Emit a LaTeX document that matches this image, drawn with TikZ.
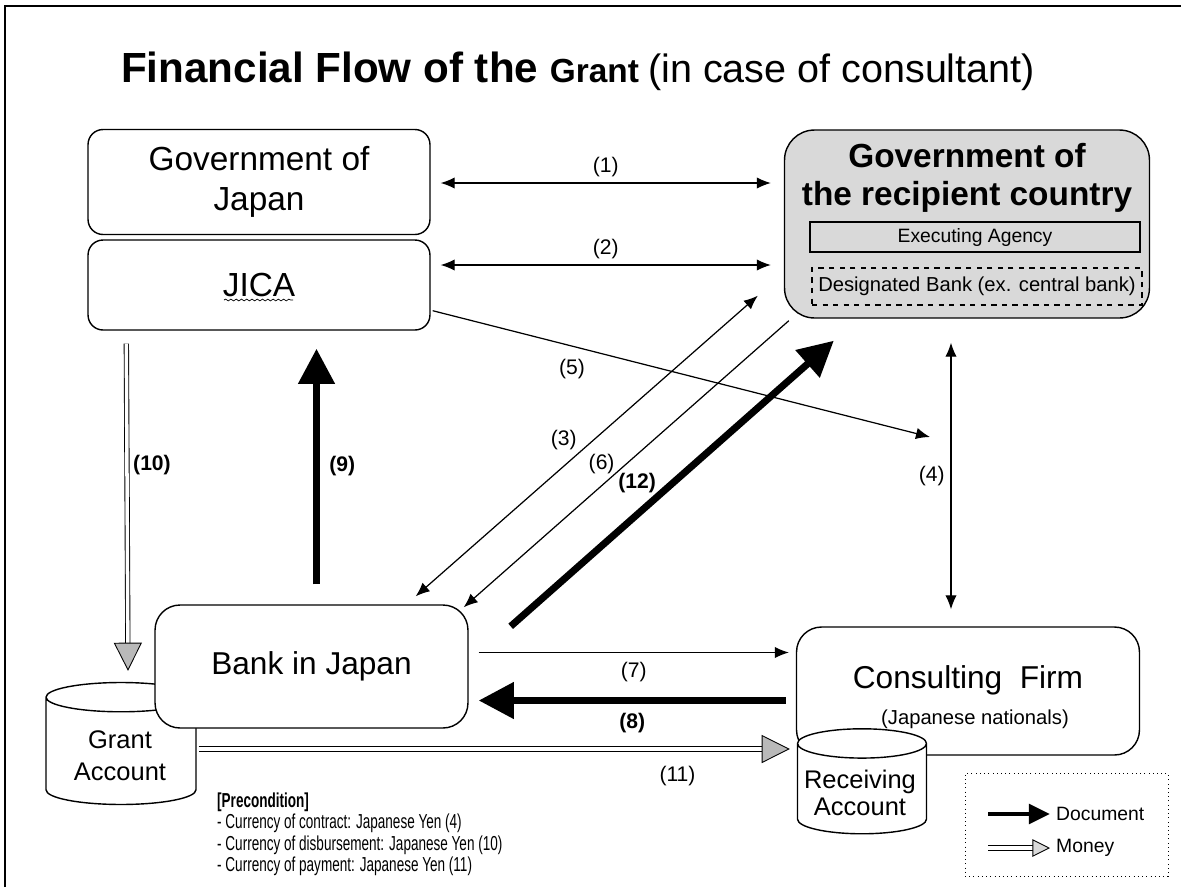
\documentclass[tikz,border=0pt]{standalone}
\usepackage{fontspec}
\setmainfont{Liberation Sans}
\newfontfamily\narrowfont[FakeStretch=0.67]{Liberation Sans}
\usetikzlibrary{arrows.meta,shapes.geometric,calc,decorations.pathmorphing}

\begin{document}
\begin{tikzpicture}[x=0.02cm,y=-0.02cm,
    box/.style={draw,rounded corners=0.3cm,fill=white,line width=0.8pt},
    acct/.style={draw,cylinder,shape border rotate=90,aspect=2.5,fill=white,line width=0.8pt},
    oneway/.style={line width=0.7pt,-{Latex[length=8pt,width=6.5pt]}},
    twoway/.style={line width=0.7pt,{Latex[length=8pt,width=6.5pt]}-{Latex[length=8pt,width=6.5pt]}},
    doc/.style={line width=4pt,-{Triangle[length=20pt,width=20pt]}},
    money/.style={double=white,double distance=2pt,line width=0.5pt,-{Triangle[length=16pt,width=16pt,fill=gray!55,line width=0.5pt]}},
    lbl/.style={font=\fontsize{12}{14}\selectfont},
    blbl/.style={font=\fontsize{12}{14}\selectfont\bfseries}]
  \useasboundingbox (0,0) rectangle (1181,887);
  \draw[line width=0.8pt] (5,887) -- (5,6) -- (1181,6);

  % title
  \node[anchor=base west] (title) at (115,82) {\fontsize{24}{28}\selectfont\bfseries Financial Flow of the \fontsize{19}{22}\selectfont Grant \mdseries\fontsize{22.5}{26}\selectfont(in case of consultant)};

  % japanese side
  \node[box,minimum width=6.84cm,minimum height=2.1cm,align=center,font=\fontsize{19}{23}\selectfont] (gj) at (259,182) {Government of\\Japan};
  \node[box,minimum width=6.84cm,minimum height=1.8cm,font=\fontsize{19}{23}\selectfont] (jica) at (259,285) {JICA};
  \draw[decorate,decoration={snake,amplitude=0.5pt,segment length=3pt}] ($(jica.center)+(-35,15)$) -- ($(jica.center)+(34,15)$);

  % recipient country
  \node[box,rounded corners=0.6cm,fill=gray!30,minimum width=7.3cm,minimum height=3.76cm] (rc) at (967,224) {};
  \node[font=\fontsize{19}{22}\selectfont\bfseries,align=center] (rctxt) at (967,178) {Government of\\the recipient country};
  \node[draw,line width=1.2pt,minimum width=6.6cm,minimum height=0.6cm,font=\fontsize{11}{13}\selectfont] (ea) at (975,237) {Executing Agency};
  \node[draw,dashed,line width=0.9pt,minimum width=6.6cm,minimum height=0.74cm,font=\fontsize{11.5}{13}\selectfont] (db) at (977,286.5) {Designated Bank (ex. central bank)};

  % bank and accounts
  \node[acct,minimum width=3cm,minimum height=2.44cm] (ga) at (121,754) {};
  \node[font=\fontsize{14.5}{18}\selectfont,align=center] (gatxt) at (120,756) {Grant\\Account};
  \node[box,rounded corners=0.5cm,minimum width=6.26cm,minimum height=2.46cm,font=\fontsize{18}{22}\selectfont] (bj) at (311.5,666.5) {Bank in Japan};
  \node[box,rounded corners=0.5cm,minimum width=6.86cm,minimum height=2.56cm] (cf) at (968,691) {};
  \node[font=\fontsize{18}{22}\selectfont] (cftxt) at (968,680) {Consulting\ \ Firm};
  \node[font=\fontsize{11.5}{14}\selectfont] (cfsub) at (975,719) {(Japanese nationals)};
  \node[acct,minimum width=2.58cm,minimum height=2.1cm] (ra) at (862,792) {};
  \node[font=\fontsize{14.5}{15}\selectfont,align=center] (ratxt) at (860,793) {Receiving\\Account};

  \node[anchor=north west,align=left,font=\narrowfont\fontsize{11.5}{12}\selectfont] (pre) at (211,787) {\textbf{[Precondition]}\\- Currency of contract: Japanese Yen (4)\\- Currency of disbursement: Japanese Yen (10)\\- Currency of payment: Japanese Yen (11)};

  % legend
  \node[draw,dotted,minimum width=4.06cm,minimum height=2.06cm] (legend) at (1066.5,825) {};
  \node[anchor=west,font=\fontsize{11}{13}\selectfont] (ldoc) at (1050,814) {Document};
  \node[anchor=west,font=\fontsize{11}{13}\selectfont] (lmon) at (1050,848) {Money};
  \draw[doc,line width=2.5pt,-{Triangle[length=12pt,width=11pt]}] ($(ldoc.west)+(-62,0)$) -- (ldoc.west);
  \draw[money,-{Triangle[length=10pt,width=10pt,fill=gray!30,line width=0.5pt]}] ($(lmon.west)+(-62,0)$) -- (lmon.west);

  % flows
  \coordinate (c5) at (930,437);
  \draw[twoway] ($(gj.east)+(10,1)$) -- node[lbl,above] {(1)} ($(rc.west|-gj.east)+(-13,1)$);
  \draw[twoway] ($(jica.east)+(10,-20)$) -- node[lbl,above] {(2)} ($(rc.west|-jica.east)+(-13,-20)$);
  \draw[oneway] ($(jica.south east)+(2,-20)$) -- node[lbl,pos=0.28,below=4pt] {(5)} (c5);
  \draw[twoway] ($(bj.north east)+(-53,-8)$) -- node[lbl,pos=0.52,left=6pt] {(3)} ($(rc.south west)+(-26,-23)$);
  \draw[oneway] ($(rc.south west)+(5,2)$) -- node[lbl,pos=0.5,left=3pt] {(6)} ($(bj.north east)+(-5,3)$);
  \draw[doc] ($(bj.north east)+(42,22)$) -- node[blbl,pos=0.5,left=4pt] {(12)} ($(rc.south west)+(50,22)$);
  \draw[twoway] ($(rc.south)+(-16,24)$) -- node[lbl,left] {(4)} ($(cf.north)+(-17,-17)$);
  \draw[money] ($(jica.south west)+(39,13)$) -- node[blbl,pos=0.37,right] {(10)} ($(ga.north)+(7,-11)$);
  \draw[doc] ($(bj.north)+(5,-20)$) -- node[blbl,right=2pt] {(9)} ($(bj.north|-jica.south)+(5,18)$);
  \draw[oneway] ($(bj.east)+(10,-14)$) -- node[lbl,below=2pt] {(7)} ($(cf.west|-bj.east)+(-7,-14)$);
  \draw[doc] ($(cf.west|-bj.east)+(-10,34)$) -- node[blbl,below=2pt] {(8)} ($(bj.east)+(10,34)$);
  \draw[money] ($(ga.east)+(2,-5)$) -- node[lbl,pos=0.81,below=6pt] {(11)} ($(ga.east-|ra.west)+(-7,-5)$);
\end{tikzpicture}
\end{document}
